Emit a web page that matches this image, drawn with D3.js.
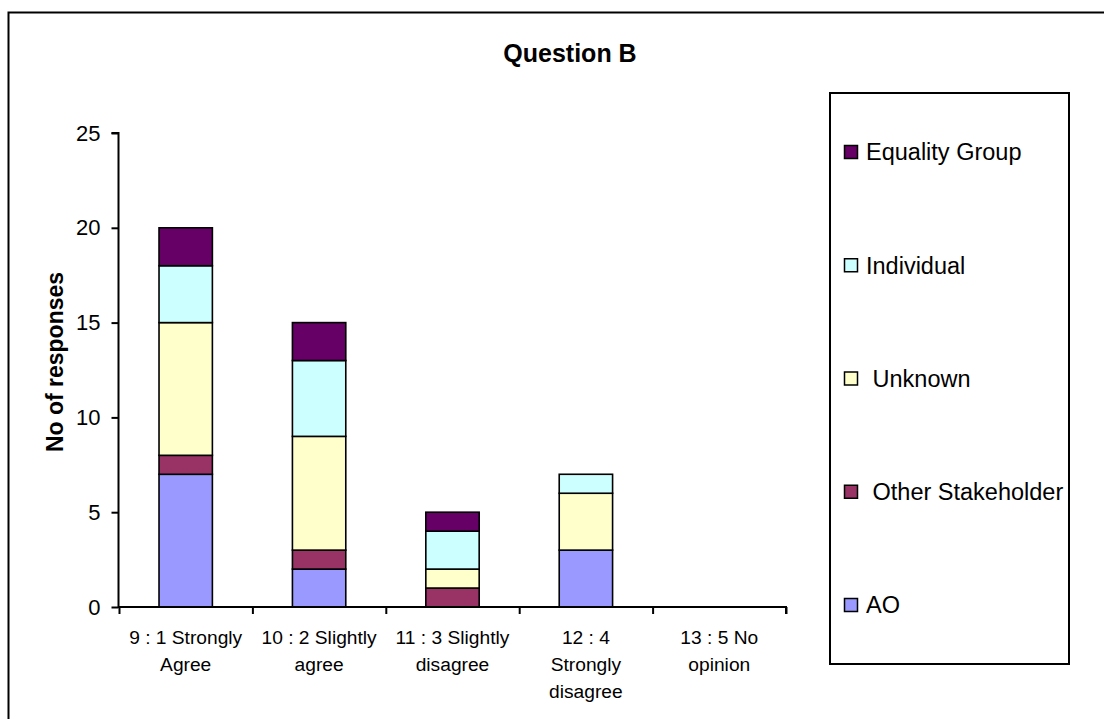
<!DOCTYPE html>
<html>
<head>
<meta charset="utf-8">
<script src="https://cdn.jsdelivr.net/npm/d3@7"></script>
<style>
  html, body { margin: 0; padding: 0; background: #fff; }
  svg { display: block; font-family: "Liberation Sans", Arial, sans-serif; }
  text { white-space: pre; }
</style>
</head>
<body>
<svg id="chart" width="1104" height="719"></svg>
<script>
// Response categories (line breaks mark how each axis label wraps)
const categories = [
  "9 : 1 Strongly\nAgree",
  "10 : 2 Slightly\nagree",
  "11 : 3 Slightly\ndisagree",
  "12 : 4\nStrongly\ndisagree",
  "13 : 5 No\nopinion"
];

// Respondent groups, bottom of the stack first
const seriesNames = ["AO", " Other Stakeholder", " Unknown", "Individual", "Equality Group"];
const seriesColors = ["#9999FF", "#993366", "#FFFFCC", "#CCFFFF", "#660066"];

// Number of responses per group, one value per category
const aoValues          = [7, 2, 0, 3, 0];
const otherValues       = [1, 1, 1, 0, 0];
const unknownValues     = [7, 6, 1, 3, 0];
const individualValues  = [3, 4, 2, 1, 0];
const equalityValues    = [2, 2, 1, 0, 0];

const yTicks = [0, 5, 10, 15, 20, 25];
const chartTitle = "Question B";
const yAxisTitle = "No of responses";

const seriesValues = [aoValues, otherValues, unknownValues, individualValues, equalityValues];

// Build row records for d3.stack
const rows = categories.map((c, i) => {
  const r = { category: c };
  seriesNames.forEach((s, k) => { r[s] = seriesValues[k][i]; });
  return r;
});
const stacked = d3.stack().keys(seriesNames)(rows);

const svg = d3.select("#chart");

// Outer chart frame (continues past the right and bottom edges)
svg.append("rect")
  .attr("x", 8.5).attr("y", 12.5)
  .attr("width", 1300).attr("height", 900)
  .attr("fill", "#fff").attr("stroke", "#000").attr("stroke-width", 2);

const plotLeft = 119, plotRight = 786, plotTop = 133, plotBottom = 607;

const x = d3.scaleBand()
  .domain(categories)
  .range([plotLeft, plotRight])
  .paddingInner(0.6)
  .paddingOuter(0.3);

const y = d3.scaleLinear().domain([0, 25]).range([plotBottom, plotTop]);

// Stacked bars
const layers = svg.append("g").selectAll("g")
  .data(stacked)
  .join("g")
  .attr("fill", (d, i) => seriesColors[i]);

layers.selectAll("rect")
  .data(d => d.filter(p => p[1] - p[0] > 0))
  .join("rect")
  .attr("x", d => x(d.data.category))
  .attr("width", x.bandwidth())
  .attr("y", d => y(d[1]))
  .attr("height", d => y(d[0]) - y(d[1]))
  .attr("stroke", "#000")
  .attr("stroke-width", 1.6);

// Y axis
const yAxis = svg.append("g")
  .attr("transform", `translate(${plotLeft - 0.5},0)`)
  .call(d3.axisLeft(y).tickValues(yTicks).tickSize(7).tickPadding(11).tickFormat(d3.format("d")));
yAxis.select(".domain").attr("stroke", "#000").attr("stroke-width", 2)
  .attr("d", `M-7,${plotTop}H0V${plotBottom}`);
yAxis.selectAll(".tick line").attr("stroke", "#000").attr("stroke-width", 2);
yAxis.selectAll(".tick text")
  .attr("font-size", 22).attr("fill", "#000")
  .attr("font-family", "'Liberation Sans', Arial, sans-serif");

// X axis: ticks on category boundaries
const xb = d3.scaleLinear().domain([0, categories.length]).range([plotLeft, plotRight]);
const xAxis = svg.append("g")
  .attr("transform", `translate(0,${plotBottom})`)
  .call(d3.axisBottom(xb).ticks(categories.length).tickSize(7).tickFormat(""));
xAxis.select(".domain").attr("stroke", "#000").attr("stroke-width", 2)
  .attr("d", `M${plotLeft - 1},0H${plotRight}V7`);
xAxis.selectAll(".tick line").attr("stroke", "#000").attr("stroke-width", 2);

// Category labels centred under each bar
const labels = svg.append("g")
  .attr("font-size", 19.2)
  .attr("text-anchor", "middle")
  .attr("fill", "#000");
categories.forEach(c => {
  const t = labels.append("text")
    .attr("x", x(c) + x.bandwidth() / 2)
    .attr("y", 644);
  c.split("\n").forEach((line, i) => {
    t.append("tspan")
      .attr("x", x(c) + x.bandwidth() / 2)
      .attr("y", 644 + i * 27)
      .text(line);
  });
});

// Title
svg.append("text")
  .attr("x", 570).attr("y", 62)
  .attr("text-anchor", "middle")
  .attr("font-size", 25).attr("font-weight", "bold")
  .text(chartTitle);

// Y axis title
svg.append("text")
  .attr("transform", "translate(63,362) rotate(-90)")
  .attr("text-anchor", "middle")
  .attr("font-size", 23).attr("font-weight", "bold")
  .text(yAxisTitle);

// Legend
svg.append("rect")
  .attr("x", 830).attr("y", 93)
  .attr("width", 239).attr("height", 571)
  .attr("fill", "#fff").attr("stroke", "#000").attr("stroke-width", 2);

const legendOrder = d3.range(seriesNames.length).reverse();
const legendY = d3.scalePoint().domain(legendOrder).range([152, 605]);

const items = svg.append("g").selectAll("g")
  .data(legendOrder)
  .join("g")
  .attr("transform", k => `translate(844,${legendY(k)})`);

items.append("rect")
  .attr("x", 0.5).attr("y", -6.5)
  .attr("width", 13).attr("height", 13)
  .attr("fill", k => seriesColors[k])
  .attr("stroke", "#000").attr("stroke-width", 1.5);

items.append("text")
  .attr("x", 22).attr("dy", "0.36em")
  .attr("font-size", 23.5)
  .attr("fill", "#000")
  .text(k => seriesNames[k]);
</script>
</body>
</html>
